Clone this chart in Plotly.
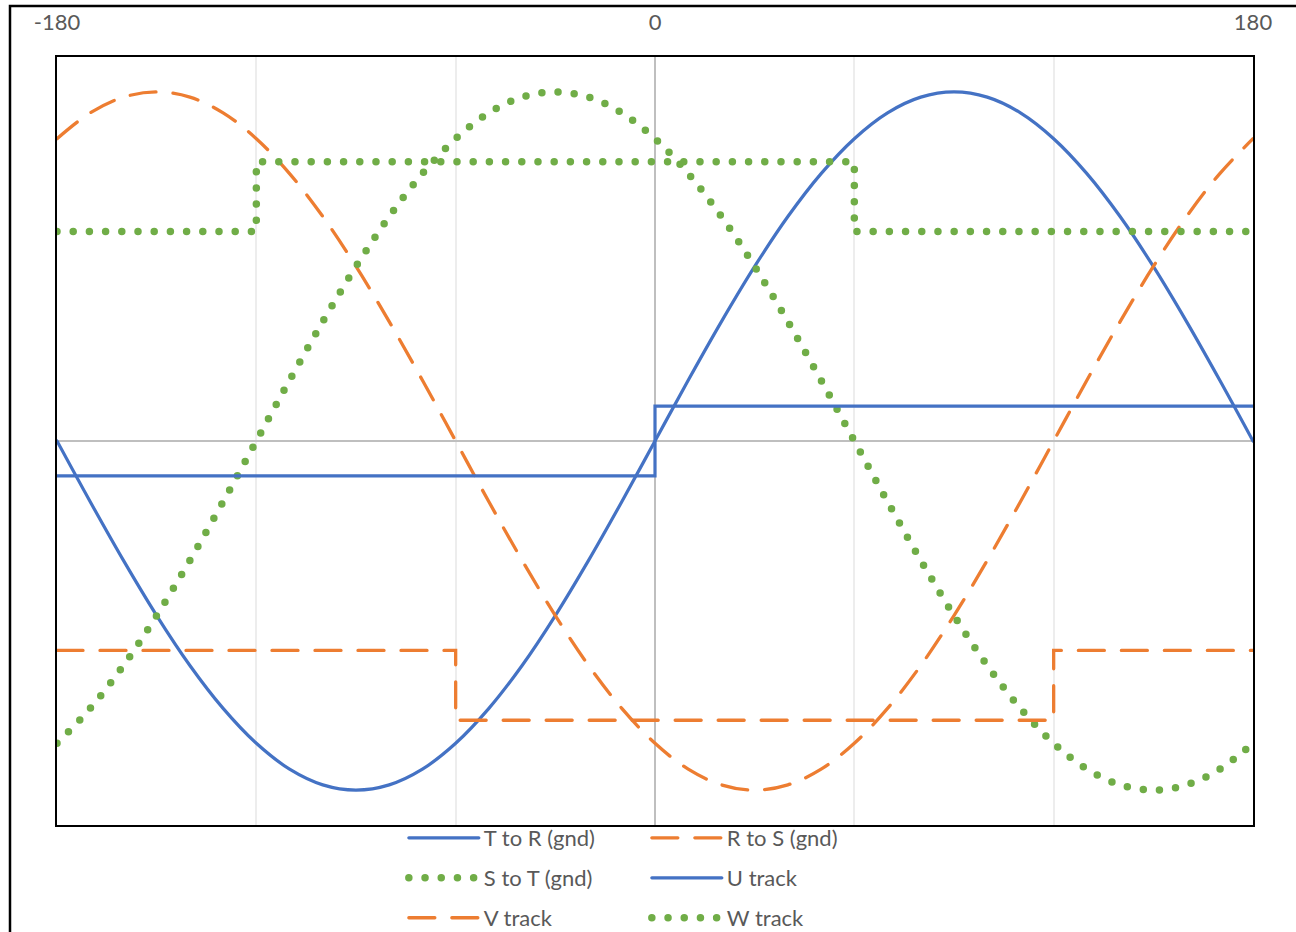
import plotly.graph_objects as go

# electrical angle in degrees, sampled every 10 deg
angle = list(range(-180, 181, 10))

t_to_r = [0.000, -0.174, -0.342, -0.500, -0.643, -0.766, -0.866, -0.940, -0.985, -1.000,
          -0.985, -0.940, -0.866, -0.766, -0.643, -0.500, -0.342, -0.174, 0.000,
          0.174, 0.342, 0.500, 0.643, 0.766, 0.866, 0.940, 0.985, 1.000,
          0.985, 0.940, 0.866, 0.766, 0.643, 0.500, 0.342, 0.174, 0.000]
r_to_s = [0.866, 0.940, 0.985, 1.000, 0.985, 0.940, 0.866, 0.766, 0.643, 0.500,
          0.342, 0.174, 0.000, -0.174, -0.342, -0.500, -0.643, -0.766, -0.866,
          -0.940, -0.985, -1.000, -0.985, -0.940, -0.866, -0.766, -0.643, -0.500,
          -0.342, -0.174, 0.000, 0.174, 0.342, 0.500, 0.643, 0.766, 0.866]
s_to_t = [-0.866, -0.766, -0.643, -0.500, -0.342, -0.174, 0.000, 0.174, 0.342, 0.500,
          0.643, 0.766, 0.866, 0.940, 0.985, 1.000, 0.985, 0.940, 0.866,
          0.766, 0.643, 0.500, 0.342, 0.174, 0.000, -0.174, -0.342, -0.500,
          -0.643, -0.766, -0.866, -0.940, -0.985, -1.000, -0.985, -0.940, -0.866]

# hall tracks (step signals)
u_x = [-180, 0, 0, 180]
u_y = [-0.1, -0.1, 0.1, 0.1]
v_x = [-180, -60, -60, 120, 120, 180]
v_y = [-0.6, -0.6, -0.8, -0.8, -0.6, -0.6]
w_x = [-180, -120, -120, 60, 60, 180]
w_y = [0.6, 0.6, 0.8, 0.8, 0.6, 0.6]

tick_vals = [-180, -120, -60, 0, 60, 120, 180]
tick_text = ['-180', '', '', '0', '', '', '180']

BLUE = '#4472C4'
ORANGE = '#ED7D31'
GREEN = '#70AD47'
TEXT = '#595959'
FONT = 'Lato'

solid = dict(color=BLUE, width=3.2)
dashed = dict(color=ORANGE, width=3.3, dash='26px,17px')
dotted = dict(color=GREEN, width=7.5, dash='0px,16.2px')

fig = go.Figure()
fig.add_trace(go.Scatter(x=angle, y=t_to_r, name='T to R (gnd)', mode='lines',
                         line=dict(solid, shape='spline'), legend='legend'))
fig.add_trace(go.Scatter(x=angle, y=r_to_s, name='R to S (gnd)', mode='lines',
                         line=dict(dashed, shape='spline'), legend='legend'))
fig.add_trace(go.Scatter(x=angle, y=s_to_t, name='S to T (gnd)', mode='lines',
                         line=dict(dotted, shape='spline'), legend='legend2'))
fig.add_trace(go.Scatter(x=u_x, y=u_y, name='U track', mode='lines',
                         line=solid, legend='legend2'))
fig.add_trace(go.Scatter(x=v_x, y=v_y, name='V track', mode='lines',
                         line=dashed, legend='legend3'))
fig.add_trace(go.Scatter(x=w_x, y=w_y, name='W track', mode='lines',
                         line=dotted, legend='legend3'))

leg = dict(orientation='h', xanchor='left', yanchor='middle', x=0.290,
           font=dict(family=FONT, size=22, color=TEXT), itemwidth=70,
           entrywidth=158, entrywidthmode='pixels', bgcolor='rgba(0,0,0,0)',
           traceorder='normal')

fig.update_layout(
    width=1296, height=932,
    margin=dict(l=57, r=43, t=57, b=107, autoexpand=False),
    paper_bgcolor='white', plot_bgcolor='white',
    showlegend=True,
    legend=dict(leg, y=-0.017),
    legend2=dict(leg, y=-0.069),
    legend3=dict(leg, y=-0.121),
    xaxis=dict(range=[-180, 180], side='top', tickmode='array',
               tickvals=tick_vals, ticktext=tick_text, ticks='',
               ticklabelstandoff=16,
               tickfont=dict(family=FONT, size=22, color=TEXT),
               showgrid=True, gridcolor='#EDEDED', gridwidth=2,
               zeroline=True, zerolinecolor='#BFBFBF', zerolinewidth=2,
               showline=True, mirror=True, linecolor='black', linewidth=2),
    yaxis=dict(range=[-1.1, 1.1], showticklabels=False, ticks='',
               showgrid=False,
               zeroline=True, zerolinecolor='#BFBFBF', zerolinewidth=2,
               showline=True, mirror=True, linecolor='black', linewidth=2),
    shapes=[dict(type='rect', xref='paper', yref='paper',
                 x0=-0.0393, x1=1.06, y0=-0.3, y1=1.0664,
                 line=dict(color='black', width=2.5), layer='below')],
)

# round line caps (like the original's round dots/dashes), no page margin
post = """
document.body.style.margin = '0';
var gd = document.getElementById('{plot_id}');
function roundCaps() {
  gd.querySelectorAll('path.js-line').forEach(function (p) {
    p.style.strokeLinecap = 'round';
  });
}
roundCaps();
gd.on('plotly_afterplot', roundCaps);
"""

fig.write_html("out.html", post_script=post, config={'displayModeBar': False})
